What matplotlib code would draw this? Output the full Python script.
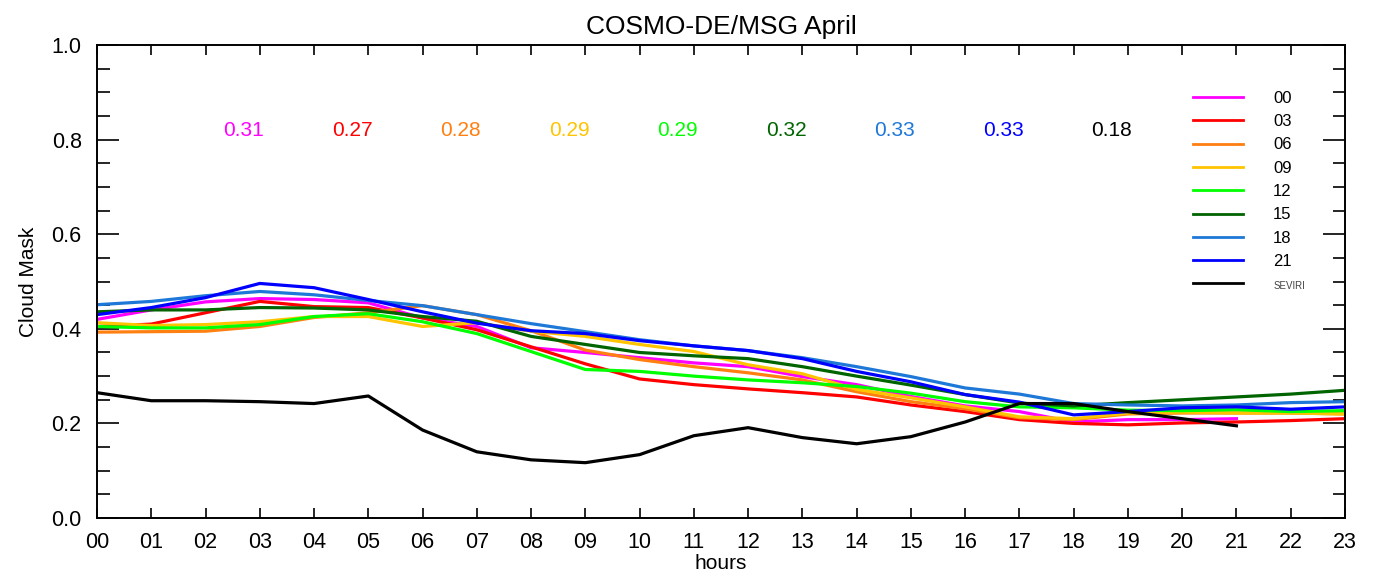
import matplotlib
matplotlib.use("Agg")
import matplotlib.pyplot as plt
from matplotlib.ticker import MultipleLocator

plt.rcParams['font.family'] = ['Liberation Sans', 'DejaVu Sans']

hours = list(range(24))
hour_labels = [f"{h:02d}" for h in hours]

run_00 = [0.420, 0.440, 0.457, 0.464, 0.462, 0.455, 0.423, 0.405, 0.360, 0.350, 0.339, 0.328, 0.320,
          0.299, 0.282, 0.257, 0.237, 0.225, 0.203, 0.208, 0.208, 0.210]
run_03 = [0.405, 0.410, 0.434, 0.458, 0.447, 0.445, 0.423, 0.398, 0.362, 0.326, 0.294, 0.282, 0.273,
          0.265, 0.256, 0.239, 0.225, 0.208, 0.200, 0.197, 0.201, 0.203, 0.206, 0.210]
run_06 = [0.393, 0.394, 0.395, 0.405, 0.424, 0.434, 0.449, 0.430, 0.396, 0.355, 0.335, 0.320, 0.307,
          0.292, 0.267, 0.246, 0.231, 0.212, 0.208, 0.220, 0.222, 0.222, 0.222, 0.220]
run_09 = [0.413, 0.407, 0.409, 0.415, 0.426, 0.426, 0.405, 0.413, 0.395, 0.384, 0.367, 0.352, 0.324,
          0.305, 0.272, 0.254, 0.235, 0.214, 0.210, 0.222, 0.224, 0.222, 0.222, 0.220]
run_12 = [0.405, 0.402, 0.402, 0.409, 0.426, 0.432, 0.415, 0.390, 0.352, 0.314, 0.310, 0.300, 0.292,
          0.286, 0.278, 0.264, 0.246, 0.235, 0.233, 0.228, 0.227, 0.229, 0.225, 0.227]
run_15 = [0.436, 0.440, 0.440, 0.445, 0.444, 0.440, 0.426, 0.416, 0.384, 0.367, 0.350, 0.343, 0.337,
          0.320, 0.300, 0.281, 0.261, 0.243, 0.237, 0.244, 0.250, 0.256, 0.262, 0.270]
run_18 = [0.451, 0.458, 0.470, 0.479, 0.472, 0.460, 0.449, 0.430, 0.411, 0.394, 0.377, 0.364, 0.354,
          0.339, 0.320, 0.299, 0.275, 0.262, 0.242, 0.239, 0.237, 0.239, 0.244, 0.246]
run_21 = [0.430, 0.445, 0.466, 0.496, 0.487, 0.462, 0.436, 0.412, 0.396, 0.390, 0.375, 0.364, 0.354,
          0.337, 0.310, 0.288, 0.261, 0.245, 0.218, 0.225, 0.233, 0.235, 0.230, 0.235]
seviri = [0.265, 0.248, 0.248, 0.246, 0.242, 0.258, 0.186, 0.140, 0.123, 0.117, 0.134, 0.174, 0.191,
          0.170, 0.157, 0.172, 0.203, 0.242, 0.242, 0.225, 0.210, 0.195]

run_labels = ["00", "03", "06", "09", "12", "15", "18", "21"]
run_series = [run_00, run_03, run_06, run_09, run_12, run_15, run_18, run_21]
run_colors = ["#ff00ff", "#ff0000", "#ff7f10", "#ffc400", "#00ff00", "#006400", "#1e78d8", "#0000ff"]
scores = ["0.31", "0.27", "0.28", "0.29", "0.29", "0.32", "0.33", "0.33", "0.18"]
score_x = [2.7, 4.7, 6.7, 8.7, 10.7, 12.7, 14.7, 16.7, 18.7]

fig = plt.figure(figsize=(13.78, 5.78), dpi=100)
ax = fig.add_axes([0.0704, 0.1038, 0.9056, 0.8182])

for vals, lab, col in zip(run_series, run_labels, run_colors):
    ax.plot(hours[:len(vals)], vals, color=col, lw=2.3, label=lab)
ax.plot(hours[:len(seviri)], seviri, color="black", lw=2.3, label="SEVIRI")

for s, x, col in zip(scores, score_x, run_colors + ["black"]):
    ax.text(x, 0.82, s, color=col, fontsize=15, ha="center", va="center")

ax.set_xlim(0, 23)
ax.set_ylim(0, 1.0)
ax.set_xticks(hours)
ax.set_xticklabels(hour_labels)
ax.yaxis.set_major_locator(MultipleLocator(0.2))
ax.yaxis.set_minor_locator(MultipleLocator(0.05))
ax.yaxis.set_major_formatter(matplotlib.ticker.FormatStrFormatter("%.1f"))
ax.tick_params(axis="both", which="both", direction="in", top=True, right=True, labelsize=15.5)
ax.tick_params(axis="y", which="major", length=16, width=1.2, pad=11)
ax.tick_params(axis="y", which="minor", length=9, width=1.2)
ax.tick_params(axis="x", which="major", length=7, width=1.2, pad=10)
for sp in ax.spines.values():
    sp.set_linewidth(1.4)

ax.set_xlabel("hours", fontsize=15, labelpad=1)
ax.set_ylabel("Cloud Mask", fontsize=15, labelpad=10)
ax.set_title("COSMO-DE/MSG April", fontsize=19, pad=8)

leg = ax.legend(loc="upper right", bbox_to_anchor=(0.98, 0.935), frameon=False, fontsize=12,
                handlelength=3.0, handletextpad=1.8, labelspacing=0.5)
for line in leg.get_lines():
    line.set_linewidth(2)
leg.get_texts()[-1].set_fontsize(7)
leg.get_texts()[-1].set_color("#444444")

fig.savefig("out.png", dpi=100)
